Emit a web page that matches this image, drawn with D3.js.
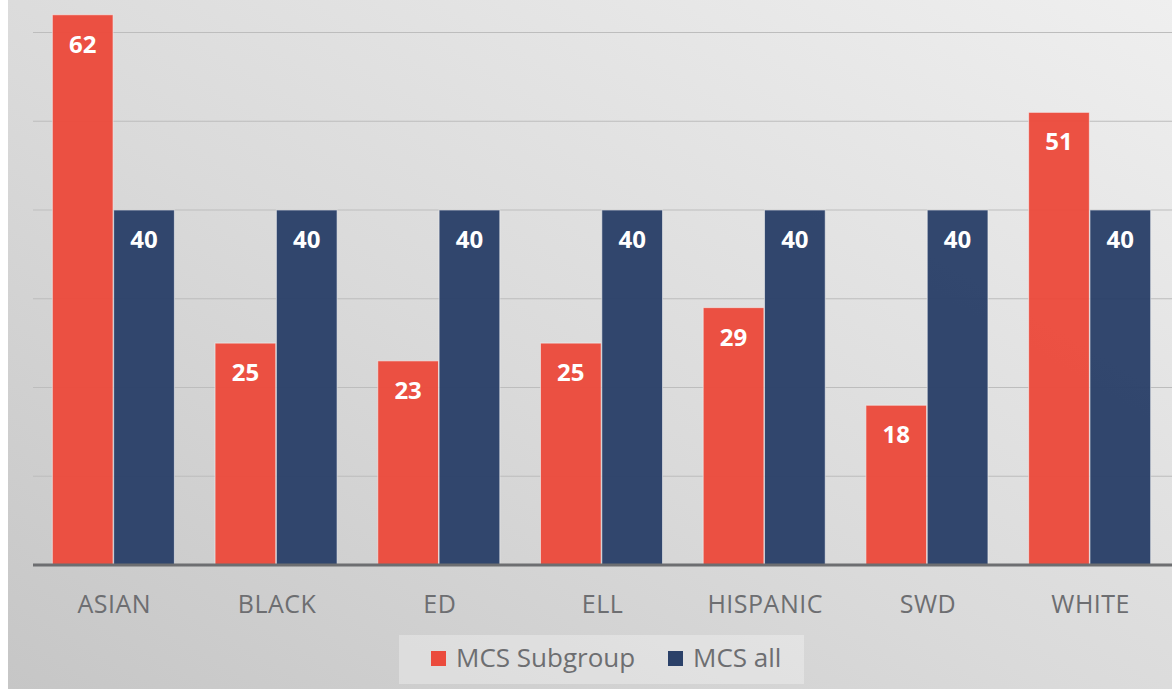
<!DOCTYPE html>
<html>
<head>
<meta charset="utf-8">
<script src="https://cdn.jsdelivr.net/npm/d3@7"></script>
<style>
  html, body { margin: 0; padding: 0; background: #fff; }
  svg { display: block; font-family: "Open Sans", sans-serif; }
</style>
</head>
<body>
<div id="chart"></div>
<script>
// Chart data
const categories = ['ASIAN', 'BLACK', 'ED', 'ELL', 'HISPANIC', 'SWD', 'WHITE'];
const subgroupValues = [62, 25, 23, 25, 29, 18, 51];
const allValues = [40, 40, 40, 40, 40, 40, 40];
const seriesNames = ['MCS Subgroup', 'MCS all'];
const gridTicks = [10, 20, 30, 40, 50, 60];

const width = 1172;
const height = 691;
const colors = ['#eb4b3d', '#2b4169'];
const plot = { left: 33, right: 1172, top: 0, bottom: 565 };

const svg = d3.select('#chart')
  .append('svg')
  .attr('width', width)
  .attr('height', height);

// Background gradient
const defs = svg.append('defs');
const grad = defs.append('linearGradient')
  .attr('id', 'bg')
  .attr('x1', '100%').attr('y1', '0%')
  .attr('x2', '0%').attr('y2', '100%');
grad.append('stop').attr('offset', '0%').attr('stop-color', '#efefef');
grad.append('stop').attr('offset', '55%').attr('stop-color', '#dadada');
grad.append('stop').attr('offset', '100%').attr('stop-color', '#c6c6c6');

svg.append('rect')
  .attr('x', 8).attr('y', 0)
  .attr('width', width - 8).attr('height', 689)
  .attr('fill', 'url(#bg)');

// Scales
const x0 = d3.scaleBand()
  .domain(categories)
  .range([plot.left, plot.right])
  .paddingInner(0.25)
  .paddingOuter(0.125);

const x1 = d3.scaleBand()
  .domain(seriesNames)
  .range([0, x0.bandwidth()])
  .paddingInner(0.01);

const y = d3.scaleLinear()
  .domain([0, 40])
  .range([plot.bottom, 210]);

// Gridlines
svg.append('g')
  .selectAll('line')
  .data(gridTicks)
  .join('line')
  .attr('x1', plot.left)
  .attr('x2', plot.right)
  .attr('y1', d => y(d))
  .attr('y2', d => y(d))
  .attr('stroke', '#bdbdbd')
  .attr('stroke-width', 1.2);

// Bars
const rows = categories.map((c, i) => ({
  category: c,
  values: [subgroupValues[i], allValues[i]]
}));

const groups = svg.append('g')
  .selectAll('g')
  .data(rows)
  .join('g')
  .attr('transform', d => `translate(${x0(d.category) - 1},0)`);

const bars = groups.selectAll('g')
  .data(d => d.values.map((v, j) => ({ series: seriesNames[j], value: v, j })))
  .join('g');

bars.append('rect')
  .attr('x', d => x1(d.series))
  .attr('y', d => y(d.value))
  .attr('width', x1.bandwidth())
  .attr('height', d => plot.bottom - y(d.value))
  .attr('fill', d => colors[d.j])
  .attr('fill-opacity', 0.97)
  .attr('stroke', '#f4f4f4')
  .attr('stroke-opacity', 0.6)
  .attr('stroke-width', 1);

bars.append('text')
  .attr('x', d => x1(d.series) + x1.bandwidth() / 2)
  .attr('y', d => y(d.value) + 38)
  .attr('text-anchor', 'middle')
  .attr('fill', '#fff')
  .attr('font-weight', 700)
  .attr('font-size', 24)
  .text(d => d.value);

// Baseline
svg.append('line')
  .attr('x1', plot.left)
  .attr('x2', plot.right)
  .attr('y1', plot.bottom)
  .attr('y2', plot.bottom)
  .attr('stroke', '#6d6e71')
  .attr('stroke-width', 3);

// Category labels
svg.append('g')
  .selectAll('text')
  .data(categories)
  .join('text')
  .attr('x', d => x0(d) + x0.bandwidth() / 2)
  .attr('y', 613)
  .attr('text-anchor', 'middle')
  .attr('fill', '#6d6e71')
  .attr('font-size', 25)
  .attr('letter-spacing', 0.5)
  .text(d => d);

// Legend
const legend = svg.append('g');
legend.append('rect')
  .attr('x', 399).attr('y', 635)
  .attr('width', 405).attr('height', 49)
  .attr('fill', '#ffffff')
  .attr('fill-opacity', 0.3);

const legendX = [431, 668];
const items = legend.selectAll('g')
  .data(seriesNames)
  .join('g')
  .attr('transform', (d, i) => `translate(${legendX[i]},651)`);

items.append('rect')
  .attr('width', 15).attr('height', 15)
  .attr('fill', (d, i) => colors[i]);

items.append('text')
  .attr('x', 25)
  .attr('y', 16)
  .attr('fill', '#6d6e71')
  .attr('font-size', 26)
  .text(d => d);
</script>
</body>
</html>
